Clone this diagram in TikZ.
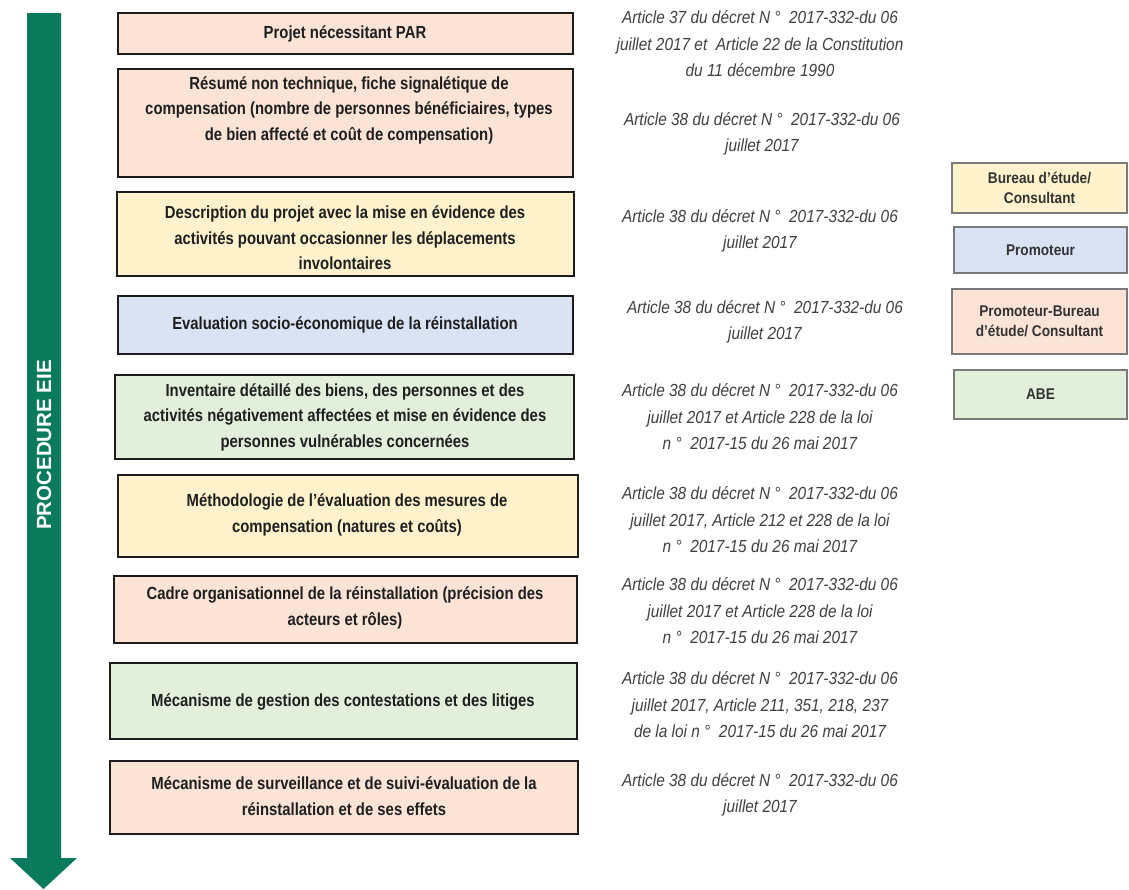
\documentclass[tikz,border=0pt]{standalone}
\usepackage{fontspec}
\setmainfont{Liberation Sans}
\newfontfamily\boxfont[FakeStretch=0.85]{Liberation Sans}
\newfontfamily\artfont[FakeStretch=0.88]{Liberation Sans}
\newfontfamily\legfont[FakeStretch=0.88]{Liberation Sans}
\newfontfamily\arrowfont{Liberation Sans}
\definecolor{pinkf}{HTML}{FBE3D6}
\definecolor{yelf}{HTML}{FFF2CC}
\definecolor{bluef}{HTML}{DAE3F3}
\definecolor{greenf}{HTML}{E2EFDA}
\definecolor{arrowg}{HTML}{0A7A5C}
\definecolor{artgray}{HTML}{404040}
\definecolor{boxline}{HTML}{1C1C1C}
\definecolor{legline}{HTML}{7A7A7A}
\begin{document}
\begin{tikzpicture}[x=1pt,y=-1pt,
  stepbox/.style={draw=boxline, line width=2.8pt, inner sep=0pt},
  steptxt/.style={font=\boxfont\bfseries\fontsize{17.5}{25.5}\selectfont, align=center, text=black!88, inner sep=0pt},
  arttxt/.style={font=\artfont\itshape\fontsize{17.5}{26.5}\selectfont, align=center, text=artgray, inner sep=0pt},
  legbox/.style={draw=legline, line width=1.4pt, inner sep=0pt, align=center,
    font=\legfont\bfseries\fontsize{15.5}{20.5}\selectfont, text=black!80}]
\path[fill=white, use as bounding box] (0,0) rectangle (1129,889);

% big arrow
\fill[arrowg] (27,13) -- (61,13) -- (61,858) -- (77,858) -- (43.5,889) -- (10,858) -- (27,858) -- cycle;
\node[rotate=90, text=white, inner sep=0pt, font=\arrowfont\bfseries\fontsize{20.5}{24}\selectfont] (lab) at (44,445) {PROCEDURE EIE};

% step boxes
\node[stepbox, fill=pinkf,  minimum width=455pt, minimum height=41pt]  (b1) at (345.5,33.5) {};
\node[stepbox, fill=pinkf,  minimum width=455pt, minimum height=108pt] (b2) at (345.5,123) {};
\node[stepbox, fill=yelf,   minimum width=457pt, minimum height=84pt]  (b3) at (345.5,234) {};
\node[stepbox, fill=bluef,  minimum width=455pt, minimum height=58pt]  (b4) at (345.5,325) {};
\node[stepbox, fill=greenf, minimum width=459pt, minimum height=84pt]  (b5) at (344.5,417) {};
\node[stepbox, fill=yelf,   minimum width=460pt, minimum height=82pt]  (b6) at (348,516) {};
\node[stepbox, fill=pinkf,  minimum width=463pt, minimum height=67pt]  (b7) at (345.5,609.5) {};
\node[stepbox, fill=greenf, minimum width=467pt, minimum height=76pt]  (b8) at (343.5,701) {};
\node[stepbox, fill=pinkf,  minimum width=468pt, minimum height=73pt]  (b9) at (344,797.5) {};

% step texts
\node[steptxt] (s1) at (345,34) {Projet nécessitant PAR};
\node[steptxt] (s2) at (349,110) {Résumé non technique, fiche signalétique de\\compensation (nombre de personnes bénéficiaires, types\\de bien affecté et coût de compensation)};
\node[steptxt] (s3) at (345,238) {Description du projet avec la mise en évidence des\\activités pouvant occasionner les déplacements\\involontaires};
\node[steptxt] (s4) at (345,325) {Evaluation socio-économique de la réinstallation};
\node[steptxt] (s5) at (345,417) {Inventaire détaillé des biens, des personnes et des\\activités négativement affectées et mise en évidence des\\personnes vulnérables concernées};
\node[steptxt] (s6) at (347,515) {Méthodologie de l’évaluation des mesures de\\compensation (natures et coûts)};
\node[steptxt] (s7) at (345,608) {Cadre organisationnel de la réinstallation (précision des\\acteurs et rôles)};
\node[steptxt] (s8) at (343,702) {Mécanisme de gestion des contestations et des litiges};
\node[steptxt] (s9) at (344,796) {Mécanisme de surveillance et de suivi-évaluation de la\\réinstallation et de ses effets};

% article texts
\node[arttxt] (a1) at (760,44) {Article 37 du décret N ° ~2017-332-du 06\\juillet 2017 et ~Article 22 de la Constitution\\du 11 décembre 1990};
\node[arttxt] (a2) at (762,134) {Article 38 du décret N ° ~2017-332-du 06\\juillet 2017};
\node[arttxt] (a3) at (760,231) {Article 38 du décret N ° ~2017-332-du 06\\juillet 2017};
\node[arttxt] (a4) at (765,322) {Article 38 du décret N ° ~2017-332-du 06\\juillet 2017};
\node[arttxt] (a5) at (760,417) {Article 38 du décret N ° ~2017-332-du 06\\juillet 2017 et Article 228 de la loi\\n ° ~2017-15 du 26 mai 2017};
\node[arttxt] (a6) at (760,520) {Article 38 du décret N ° ~2017-332-du 06\\juillet 2017, Article 212 et 228 de la loi\\n ° ~2017-15 du 26 mai 2017};
\node[arttxt] (a7) at (760,611) {Article 38 du décret N ° ~2017-332-du 06\\juillet 2017 et Article 228 de la loi\\n ° ~2017-15 du 26 mai 2017};
\node[arttxt] (a8) at (760,705) {Article 38 du décret N ° ~2017-332-du 06\\juillet 2017, Article 211, 351, 218, 237\\de la loi n ° ~2017-15 du 26 mai 2017};
\node[arttxt] (a9) at (760,795) {Article 38 du décret N ° ~2017-332-du 06\\juillet 2017};

% legend
\node[legbox, fill=yelf,   minimum width=175pt, minimum height=50pt] (l1) at (1039.5,188) {Bureau d’étude/\\Consultant};
\node[legbox, fill=bluef,  minimum width=173pt, minimum height=46pt] (l2) at (1040.5,250) {Promoteur};
\node[legbox, fill=pinkf,  minimum width=175pt, minimum height=65pt] (l3) at (1039.5,321.5) {Promoteur-Bureau\\d’étude/ Consultant};
\node[legbox, fill=greenf, minimum width=173pt, minimum height=49pt] (l4) at (1040.5,394.5) {ABE};
\end{tikzpicture}
\end{document}
